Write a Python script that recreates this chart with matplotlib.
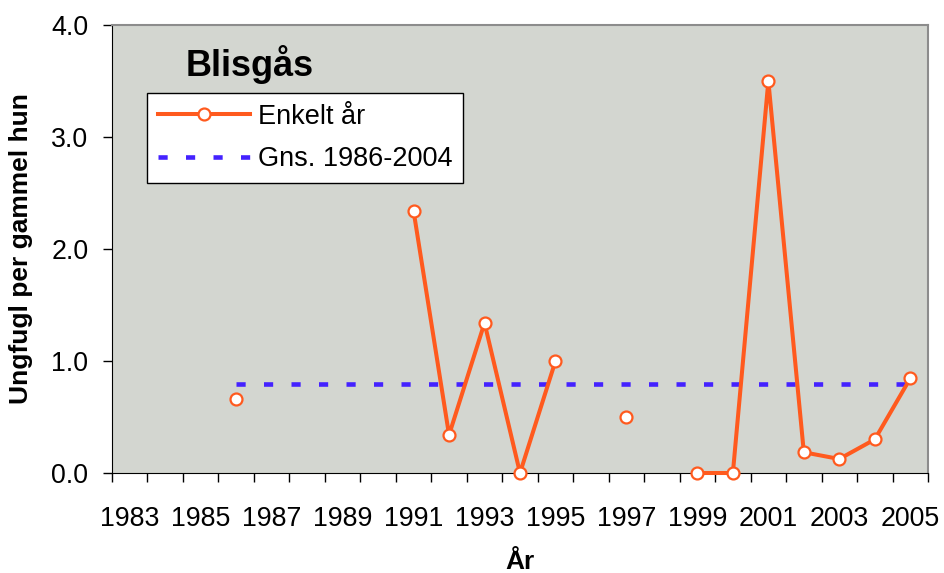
import numpy as np
import matplotlib
matplotlib.use("Agg")
import matplotlib.pyplot as plt

plt.rcParams['font.family'] = ['Liberation Sans', 'DejaVu Sans']

# data (NaN = no value that year)
years = list(range(1983, 2006))
enkelt = [np.nan, np.nan, np.nan, 0.66, np.nan, np.nan, np.nan, np.nan,
          2.34, 0.34, 1.34, 0.0, 1.00, np.nan, 0.50, np.nan,
          0.0, 0.0, 3.50, 0.185, 0.125, 0.30, 0.845]
gns_years = [1986, 2005]
gns_values = [0.795, 0.795]
year_labels = list(range(1983, 2006, 2))
y_ticks = [0.0, 1.0, 2.0, 3.0, 4.0]

orange = '#FF5A1E'
blue = '#4422FF'

fig = plt.figure(figsize=(9.45, 5.73), dpi=100)
ax = fig.add_axes([112/945, 100/573, 816/945, 448/573])
ax.set_facecolor('#D3D6D0')

ax.plot(gns_years, gns_values, color=blue, lw=3.3, dashes=(2, 4),
        dash_capstyle='butt', label='Gns. 1986-2004', zorder=2)
ax.plot(years, enkelt, color=orange, lw=2.9, marker='o', markersize=8.6,
        markerfacecolor='white', markeredgecolor=orange, markeredgewidth=1.6,
        label='Enkelt år', zorder=3, clip_on=False)

ax.set_xlim(1982.5, 2005.5)
ax.set_ylim(0, 4)

ax.set_xticks(year_labels)
ax.set_xticklabels([str(y) for y in year_labels])
ax.set_xticks(np.arange(1982.5, 2006, 1), minor=True)
ax.tick_params(axis='x', which='major', length=0, pad=23.5, labelsize=19.3)
ax.tick_params(axis='x', which='minor', length=6.5, width=1, direction='out')
ax.set_yticks(y_ticks)
ax.set_yticklabels(['%.1f' % v for v in y_ticks])
ax.tick_params(axis='y', length=6.5, width=1, pad=10.5, labelsize=19.3)

for s in ['top', 'right']:
    ax.spines[s].set_color('#8C8C8C')
    ax.spines[s].set_linewidth(1.5)
ax.spines['left'].set_color('black')
ax.spines['bottom'].set_color('black')

ax.set_xlabel('År', fontsize=19, fontweight='bold')
ax.xaxis.set_label_coords(0.5, -0.172)
ax.set_ylabel('Ungfugl per gammel hun', fontsize=19, fontweight='bold')
ax.yaxis.set_label_coords(-0.097, 0.5)

ax.text((186 - 112) / 816, (473 - 76) / 448, 'Blisgås', fontsize=26,
        fontweight='bold', transform=ax.transAxes, ha='left', va='baseline')

handles, labels = ax.get_legend_handles_labels()
leg = ax.legend(handles[::-1], labels[::-1], loc='upper left',
                bbox_to_anchor=((147 - 112) / 816, (473 - 93) / 448),
                fontsize=19.5, frameon=True, fancybox=False, framealpha=1,
                edgecolor='black', handlelength=3.4, handletextpad=0.3,
                labelspacing=0.6, borderpad=0.4, borderaxespad=0,
                numpoints=1)
leg.get_frame().set_linewidth(1)

fig.savefig('out.png', dpi=100)
